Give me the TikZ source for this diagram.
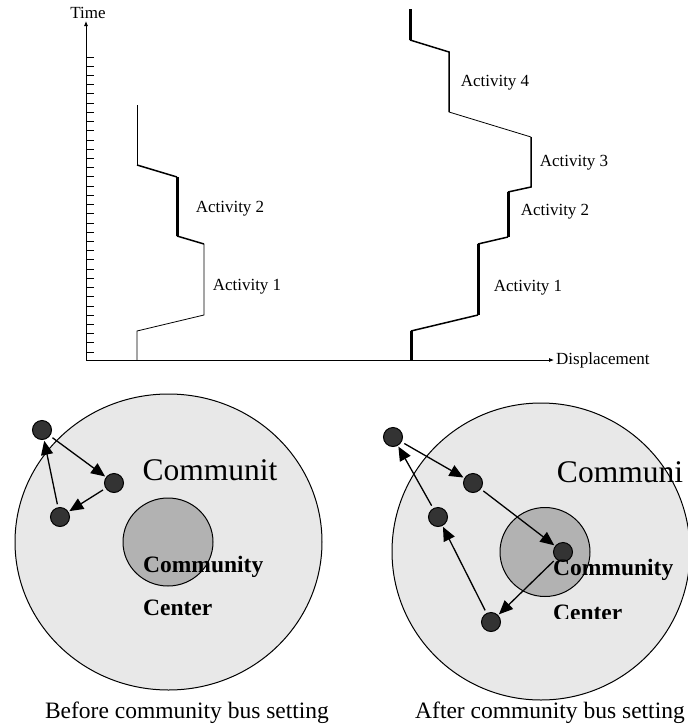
\documentclass[tikz,border=0pt]{standalone}
\usepackage{fontspec}
\setmainfont{Liberation Serif}
\usetikzlibrary{arrows.meta,positioning}

\begin{document}
\begin{tikzpicture}[x=1pt,y=-1pt]
\tikzstyle{thn}=[line width=0.8pt]
\tikzstyle{med}=[line width=1.5pt]
\tikzstyle{thk}=[line width=3pt]
\tikzstyle{lbl}=[font=\fontsize{17}{20}\selectfont, inner sep=2pt]
\tikzstyle{area}=[draw=black, line width=1pt, fill=black!9]
\tikzstyle{core}=[draw=black, line width=1pt, fill=black!30]
\tikzstyle{stopdot}=[circle, draw=black, line width=1pt, fill=black!80, minimum size=19pt, inner sep=0pt]
\tikzstyle{trip}=[line width=1.3pt, -{Triangle[length=14pt,width=12pt]}, shorten >=1pt, shorten <=3pt]
\tikzstyle{bigtxt}=[font=\fontsize{31.5}{34}\selectfont, inner sep=0pt]
\tikzstyle{bld}=[font=\fontsize{23.5}{26}\selectfont\bfseries, inner sep=0pt, anchor=west]
\tikzstyle{captxt}=[font=\fontsize{23.5}{26}\selectfont, inner sep=0pt]
\useasboundingbox (0,0) rectangle (688,726);
\clip (0,0) rectangle (688,726);

% time-space chart
\coordinate (o) at (86,360);
\coordinate (ytop) at (86,21);
\coordinate (xend) at (554,360);
\draw[thn, -{Latex[length=5pt,width=4pt]}] (o) -- (ytop);
\draw[thn, -{Latex[length=5pt,width=4pt]}] (o) -- (xend);
\node (tlab) [lbl, above=0pt of ytop, xshift=2pt] {Time};
\node (xlab) [lbl, right=0pt of xend] {Displacement};
\foreach \t in {0,...,32}
  \draw[thn] (86,{57+\t*9.22}) -- ++(8,0);

% before
\draw[thn] (137,360) -- (137,331) -- (204,315) -- (204,244);
\draw[med] (204,244) -- (177,236);
\draw[thk] (177,236) -- (177,177);
\draw[med] (177,177) -- (137,165);
\draw[thn] (137,165) -- (137,105);
\node (b2) [lbl] at (230,209) {Activity 2};
\node (b1) [lbl] at (247,287) {Activity 1};

% after
\draw[thk] (411,360) -- (411,331);
\draw[med] (411,331) -- (478,315);
\draw[thk] (478,315) -- (478,244);
\draw[med] (478,244) -- (508,237);
\draw[thk] (508,237) -- (508,192);
\draw[med] (508,192) -- (531,187) -- (531,137);
\draw[thn] (531,137) -- (449,112);
\draw[med] (449,112) -- (449,52) -- (410,40);
\draw[thk] (410,40) -- (410,9);
\node (a4) [lbl] at (495,83) {Activity 4};
\node (a3) [lbl] at (574,163) {Activity 3};
\node (a2) [lbl] at (555,212) {Activity 2};
\node (a1) [lbl] at (528,288) {Activity 1};

% before community bus
\draw[area] (168.5,542) ellipse (153.5 and 148);
\draw[core] (168,542) ellipse (45 and 44);
\node (lcom) [bigtxt] at (210,470) {Communit};
\node (lcc1) [bld] at (143,567) {Community};
\node (lcc2) [bld] at (143,608) {Center};
\node (l1) [stopdot] at (42,430) {};
\node (l2) [stopdot] at (114,483) {};
\node (l3) [stopdot] at (60,517) {};
\draw[trip] (l1) -- (l2);
\draw[trip] (l2) -- (l3);
\draw[trip] (l3) -- (l1);
\node (lcap) [captxt] at (187,713) {Before community bus setting};

% after community bus
\draw[area] (541,551.5) ellipse (149 and 148.5);
\draw[core] (545,552) ellipse (45 and 44.5);
\node (rcom) [bigtxt] at (620,472) {Communi};
\node (r1) [stopdot] at (393,437) {};
\node (r2) [stopdot] at (473,483) {};
\node (r3) [stopdot] at (563,552) {};
\node (r4) [stopdot] at (491,622) {};
\node (r5) [stopdot] at (438,517) {};
\draw[trip] (r1) -- (r2);
\draw[trip] (r2) -- (r3);
\draw[trip] (r3) -- (r4);
\draw[trip] (r4) -- (r5);
\draw[trip] (r5) -- (r1);
\node (rcc1) [bld] at (553,570) {Community};
\begin{scope}
\clip (540,595) rectangle (640,618);
\node (rcc2) [bld] at (553,613) {Center};
\end{scope}
\node (rcap) [captxt] at (550,713) {After community bus setting};
\end{tikzpicture}
\end{document}
